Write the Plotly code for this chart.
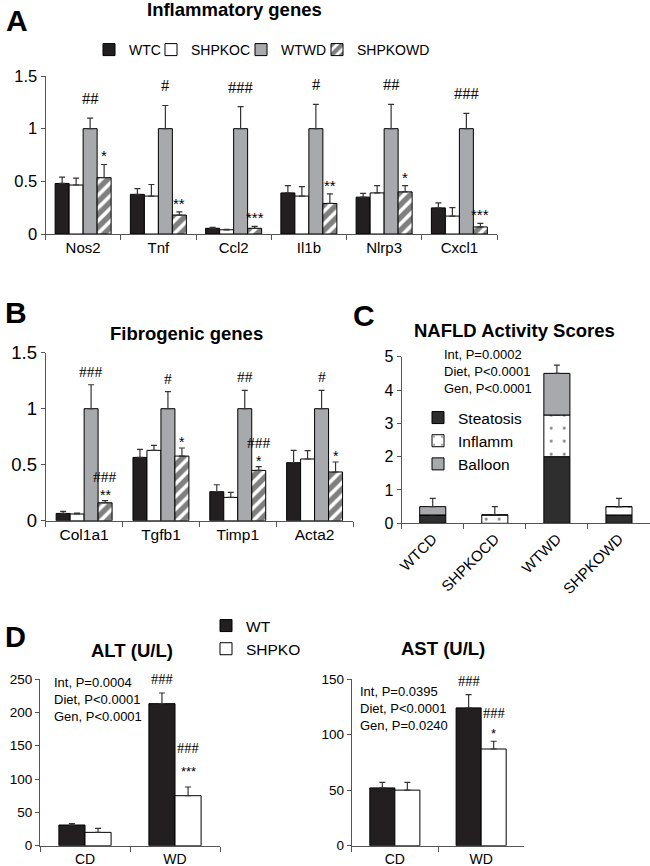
import plotly.graph_objects as go

W, H = 650, 866

# ---------------- Panel A: Inflammatory genes ----------------
a_genes = ["Nos2", "Tnf", "Ccl2", "Il1b", "Nlrp3", "Cxcl1"]
a_wtc = [0.48, 0.376, 0.054, 0.39, 0.35, 0.248]
a_wtc_err = [0.06, 0.054, 0.01, 0.07, 0.035, 0.047]
a_shpkoc = [0.465, 0.36, 0.04, 0.36, 0.39, 0.17]
a_shpkoc_err = [0.065, 0.11, 0.005, 0.09, 0.07, 0.08]
a_wtwd = [1, 1, 1, 1, 1, 1]
a_wtwd_err = [0.10, 0.22, 0.21, 0.23, 0.23, 0.146]
a_shpkowd = [0.535, 0.18, 0.054, 0.29, 0.40, 0.067]
a_shpkowd_err = [0.125, 0.03, 0.019, 0.09, 0.06, 0.033]
a_wtwd_sig = ["##", "#", "###", "#", "##", "###"]
a_shpkowd_star = ["*", "**", "***", "**", "*", "***"]

# ---------------- Panel B: Fibrogenic genes ----------------
b_genes = ["Col1a1", "Tgfb1", "Timp1", "Acta2"]
b_wtc = [0.065, 0.565, 0.259, 0.518]
b_wtc_err = [0.018, 0.072, 0.062, 0.11]
b_shpkoc = [0.06, 0.628, 0.208, 0.551]
b_shpkoc_err = [0.008, 0.045, 0.045, 0.074]
b_wtwd = [1, 1, 1, 1]
b_wtwd_err = [0.214, 0.152, 0.164, 0.164]
b_shpkowd = [0.16, 0.577, 0.449, 0.435]
b_shpkowd_err = [0.02, 0.072, 0.033, 0.089]
b_wtwd_sig = ["###", "#", "##", "#"]
b_shpkowd_star = ["**", "*", "*", "*"]
b_shpkowd_hash = ["###", "", "###", ""]

# ---------------- Panel C: NAFLD Activity Scores ----------------
c_groups = ["WTCD", "SHPKOCD", "WTWD", "SHPKOWD"]
c_steatosis = [0.25, 0, 2.0, 0.25]
c_inflamm = [0, 0.25, 1.25, 0.25]
c_inflamm_err = [0, 0.25, 0.25, 0.25]
c_balloon = [0.25, 0, 1.25, 0]
c_balloon_err = [0.25, 0, 0.25, 0]
c_stats = "Int, P=0.0002<br>Diet, P&lt;0.0001<br>Gen, P&lt;0.0001"

# ---------------- Panel D: ALT / AST ----------------
d_diet = ["CD", "WD"]
alt_wt = [31, 213]
alt_wt_err = [2, 16]
alt_ko = [20, 75]
alt_ko_err = [6, 13]
alt_wt_sig = ["", "###"]
alt_ko_star = ["", "***"]
alt_ko_hash = ["", "###"]
alt_stats = "Int, P=0.0004<br>Diet, P&lt;0.0001<br>Gen, P&lt;0.0001"

ast_wt = [52, 124]
ast_wt_err = [5, 12]
ast_ko = [50, 87]
ast_ko_err = [7, 7]
ast_wt_sig = ["", "###"]
ast_ko_star = ["", "*"]
ast_ko_hash = ["", "###"]
ast_stats = "Int, P=0.0395<br>Diet, P&lt;0.0001<br>Gen, P=0.0240"

# ---------------- styling ----------------
SANS = "Arial, Liberation Sans, sans-serif"
SERIF = "Liberation Serif, Times New Roman, serif"
BLACK = "#231f20"
GRAY = "#a7a9ac"
DARK = "#2e2e2e"
AXC = "#555555"
ERRC = "#333333"


def px_x(a, b):
    return [a / W, min(b / W, 1.0)]


def px_y(top, bottom):
    return [1 - bottom / H, 1 - top / H]


fig = go.Figure()


def bar(xa, ya, cats, vals, errs, name, width, offset, color, pattern=None,
        legend="legend", showlegend=False, base=None, legendgroup=None):
    marker = dict(color=color, line=dict(color="black", width=1))
    if pattern:
        marker["pattern"] = pattern
    fig.add_trace(go.Bar(
        x=cats, y=vals, base=base, name=name, width=width, offset=offset,
        xaxis=xa, yaxis=ya, marker=marker,
        error_y=dict(type="data", symmetric=False, array=errs,
                     arrayminus=[0] * len(vals), color=ERRC,
                     thickness=1.2, width=3),
        legend=legend, showlegend=showlegend, legendgroup=legendgroup,
        hoverinfo="skip"))


hatch = dict(shape="/", size=9, solidity=0.6, fgcolor="black",
             bgcolor="white", fillmode="overlay")
dots = dict(shape=".", size=13, solidity=0.04, fgcolor="black",
            bgcolor="white", fillmode="overlay")

# Panel A bars (each series gets its own small legend box)
wa = 0.186
a_series = [(a_wtc, a_wtc_err, "WTC", BLACK, None, "legend"),
            (a_shpkoc, a_shpkoc_err, "SHPKOC", "white", None, "legend4"),
            (a_wtwd, a_wtwd_err, "WTWD", GRAY, None, "legend5"),
            (a_shpkowd, a_shpkowd_err, "SHPKOWD", "white", hatch, "legend6")]
for k, (v, e, n, c, p, lg) in enumerate(a_series):
    bar("x", "y", a_genes, v, e, n, wa, (k - 2) * wa, c, p,
        legend=lg, showlegend=True)

# Panel B bars
wb = 0.182
b_series = [(b_wtc, b_wtc_err, "WTC", BLACK, None),
            (b_shpkoc, b_shpkoc_err, "SHPKOC", "white", None),
            (b_wtwd, b_wtwd_err, "WTWD", GRAY, None),
            (b_shpkowd, b_shpkowd_err, "SHPKOWD", "white", hatch)]
for k, (v, e, n, c, p) in enumerate(b_series):
    bar("x2", "y2", b_genes, v, e, n, wb, (k - 2) * wb, c, p)

# Panel C stacked bars (stack built from the data via base)
wc = 0.42
c_base_inf = list(c_steatosis)
c_base_bal = [s + i for s, i in zip(c_steatosis, c_inflamm)]
bar("x3", "y3", c_groups, c_steatosis, [0] * 4, "Steatosis", wc, -wc / 2,
    DARK, legend="legend2", showlegend=True, legendgroup="s")
bar("x3", "y3", c_groups, c_inflamm, c_inflamm_err, "Inflamm", wc, -wc / 2,
    "white", dots, legend="legend2", showlegend=True, base=c_base_inf,
    legendgroup="i")
bar("x3", "y3", c_groups, c_balloon, c_balloon_err, "Balloon", wc, -wc / 2,
    GRAY, legend="legend2", showlegend=True, base=c_base_bal,
    legendgroup="b")

# Panel D bars
wd = 0.29
bar("x4", "y4", d_diet, alt_wt, alt_wt_err, "WT", wd, -wd, BLACK,
    legend="legend3", showlegend=True, legendgroup="wt")
bar("x4", "y4", d_diet, alt_ko, alt_ko_err, "SHPKO", wd, 0, "white",
    legend="legend3", showlegend=True, legendgroup="ko")
bar("x5", "y5", d_diet, ast_wt, ast_wt_err, "WT", wd, -wd, BLACK)
bar("x5", "y5", d_diet, ast_ko, ast_ko_err, "SHPKO", wd, 0, "white")

ann = []


def sig(xr, yr, labels, vals, errs, center_off, yshift, serif=True, size=14):
    for i, (lab, v, e) in enumerate(zip(labels, vals, errs)):
        if not lab:
            continue
        ann.append(dict(x=i + center_off, y=v + e, xref=xr, yref=yr,
                        text=lab, showarrow=False, yanchor="bottom",
                        yshift=yshift,
                        font=dict(family=SERIF if serif else SANS,
                                  size=size, color="black")))


# A significance
sig("x", "y", a_wtwd_sig, a_wtwd, a_wtwd_err, 0.5 * wa, 8, size=16.5)
sig("x", "y", a_shpkowd_star, a_shpkowd, a_shpkowd_err, 1.5 * wa, -2,
    serif=False, size=15)
# B significance
sig("x2", "y2", b_wtwd_sig, b_wtwd, b_wtwd_err, 0.5 * wb, 3, size=15.5)
sig("x2", "y2", b_shpkowd_star, b_shpkowd, b_shpkowd_err, 1.5 * wb, -4,
    serif=False, size=14)
sig("x2", "y2", b_shpkowd_hash, b_shpkowd, b_shpkowd_err, 1.5 * wb, 14,
    size=15.5)
# D significance
sig("x4", "y4", alt_wt_sig, alt_wt, alt_wt_err, -0.5 * wd, 4, size=14.5)
sig("x4", "y4", alt_ko_star, alt_ko, alt_ko_err, 0.5 * wd, 6, serif=False,
    size=13)
sig("x4", "y4", alt_ko_hash, alt_ko, alt_ko_err, 0.5 * wd, 29, size=14.5)
sig("x5", "y5", ast_wt_sig, ast_wt, ast_wt_err, -0.5 * wd, 4, size=14.5)
sig("x5", "y5", ast_ko_star, ast_ko, ast_ko_err, 0.5 * wd, -2, serif=False,
    size=13)
sig("x5", "y5", ast_ko_hash, ast_ko, ast_ko_err, 0.5 * wd, 18, size=14.5)


def ptext(x, y, text, size, bold=False, xanchor="center", align="center",
          family=SANS):
    ann.append(dict(x=x / W, y=1 - y / H, xref="paper", yref="paper",
                    text=text, showarrow=False, xanchor=xanchor,
                    yanchor="middle", align=align,
                    font=dict(family=family, size=size, color="black",
                              weight="bold" if bold else "normal")))


# panel letters and titles
ptext(17, 20, "A", 30, True)
ptext(16, 313, "B", 30, True)
ptext(364, 315, "C", 30, True)
ptext(15, 637, "D", 29, True)
ptext(234, 9, "Inflammatory genes", 18.5, True)
ptext(186, 333, "Fibrogenic genes", 18.5, True)
ptext(514, 330, "NAFLD Activity Scores", 18.5, True)
ptext(132, 650, "ALT (U/L)", 18.5, True)
ptext(443, 648, "AST (U/L)", 18.5, True)
# stats text
ptext(442, 371, c_stats, 13, xanchor="left", align="left")
ptext(52, 699, alt_stats, 13, xanchor="left", align="left")
ptext(358, 708, ast_stats, 13, xanchor="left", align="left")


def xax(domain, anchor, size, angle=0):
    return dict(domain=domain, anchor=anchor, type="category",
                showline=True, linecolor=AXC, linewidth=1,
                ticks="outside", tickson="boundaries", ticklen=5,
                tickcolor=AXC, tickangle=angle, showgrid=False,
                zeroline=False, fixedrange=True,
                tickfont=dict(family=SANS, size=size, color="black"))


def yax(domain, anchor, rng, dtick, size):
    return dict(domain=domain, anchor=anchor, range=rng, dtick=dtick,
                tick0=0, showline=True, linecolor=AXC, linewidth=1,
                ticks="outside", ticklen=4, tickcolor=AXC, showgrid=False,
                zeroline=False, fixedrange=True,
                tickfont=dict(family=SANS, size=size, color="black"))


def one_legend(xpx, ypx):
    return dict(orientation="h", x=xpx / W, y=1 - ypx / H, xanchor="left",
                yanchor="middle", font=dict(size=14), itemwidth=30,
                bgcolor="rgba(0,0,0,0)")


fig.update_layout(
    width=W, height=H,
    margin=dict(l=0, r=0, t=0, b=0, pad=0, autoexpand=False),
    paper_bgcolor="white", plot_bgcolor="white",
    font=dict(family=SANS, color="black"),
    barmode="group",
    xaxis=dict(xax(px_x(45.5, 497), "y", 15), range=[-0.5, 5.5]),
    yaxis=yax(px_y(76, 234), "x", [0, 1.5], 0.5, 16.5),
    xaxis2=dict(xax(px_x(45.7, 353), "y2", 15.5), range=[-0.5, 3.5]),
    yaxis2=yax(px_y(352.7, 520.7), "x2", [0, 1.5], 0.5, 18.5),
    xaxis3=dict(xax(px_x(401.7, 650), "y3", 15, -45), range=[-0.5, 3.5]),
    yaxis3=yax(px_y(356.7, 523.3), "x3", [0, 5], 1, 16),
    xaxis4=dict(xax(px_x(40, 220), "y4", 14), range=[-0.5, 1.5]),
    yaxis4=yax(px_y(679, 845.7), "x4", [0, 250], 50, 13.5),
    xaxis5=dict(xax(px_x(351.7, 524.3), "y5", 14), range=[-0.5, 1.5]),
    yaxis5=yax(px_y(679, 845.7), "x5", [0, 150], 50, 13.5),
    legend=one_legend(89, 50),
    legend4=one_legend(151, 50),
    legend5=one_legend(241, 50),
    legend6=one_legend(317, 50),
    legend2=dict(x=418 / W, y=1 - 401 / H, xanchor="left", yanchor="top",
                 font=dict(size=15.5), itemwidth=30, tracegroupgap=7,
                 bgcolor="rgba(0,0,0,0)", traceorder="normal"),
    legend3=dict(x=206 / W, y=1 - 609 / H, xanchor="left", yanchor="top",
                 font=dict(size=15.5), itemwidth=30, tracegroupgap=2,
                 bgcolor="rgba(0,0,0,0)", traceorder="normal"),
    annotations=ann,
    showlegend=True,
)

fig.write_html(
    "out.html",
    config={"displayModeBar": False},
    post_script="document.body.style.margin='0';"
                "document.body.style.overflow='hidden';")
